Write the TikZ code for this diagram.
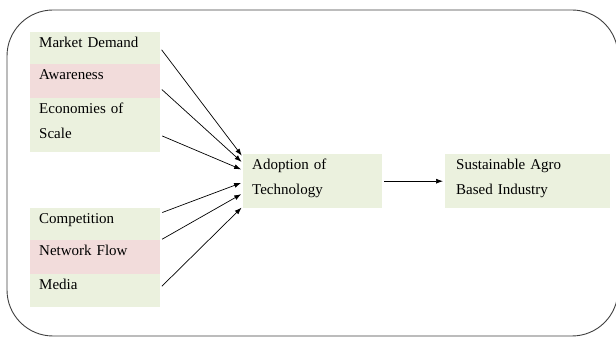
\documentclass[tikz,border=0pt]{standalone}
\usepackage{fontspec}
\setmainfont{Liberation Serif}
\usepackage{xcolor}
\usetikzlibrary{arrows.meta}

\definecolor{boxgreen}{HTML}{EBF1DE}
\definecolor{boxpink}{HTML}{F2DCDB}

\begin{document}
\begin{tikzpicture}[x=1pt,y=-1pt,
  factor/.style={anchor=north west,inner xsep=9pt,inner ysep=0pt,text width=112pt,align=left,
    text height=15pt,font=\fontsize{15}{25}\selectfont},
  link/.style={-{Latex[length=7pt,width=5pt]},line width=0.7pt,shorten <=2pt,shorten >=2pt}]
\useasboundingbox (0,0) rectangle (616,339);
\draw[rounded corners=46pt,draw=black!75,line width=0.9pt] (7,10) rectangle (618,336);
\node[factor,fill=boxgreen,text depth=17pt] (md) at (30,32) {Market Demand};
\node[factor,fill=boxpink,text depth=19pt] (aw) at (30,64) {Awareness};
\node[factor,fill=boxgreen,text depth=39pt] (es) at (30,98) {Economies of\\Scale};
\node[factor,fill=boxgreen,text depth=17pt] (co) at (30,208) {Competition};
\node[factor,fill=boxpink,text depth=19pt] (nf) at (30,240) {Network Flow};
\node[factor,fill=boxgreen,text depth=18pt] (me) at (30,274) {Media};
\node[factor,fill=boxgreen,text width=121pt,text depth=39pt] (adopt) at (243,154) {Adoption of\\Technology};
\node[factor,fill=boxgreen,inner xsep=11pt,text width=143pt,text depth=39pt] (sus) at (445,154) {Sustainable Agro\\Based Industry};
\draw[link] (md.east) -- ([yshift=24pt]adopt.west);
\draw[link] ([yshift=-7pt]aw.east) -- ([yshift=18pt]adopt.west);
\draw[link] ([yshift=-10pt]es.east) -- ([yshift=11pt]adopt.west);
\draw[link] ([yshift=11pt]co.east) -- ([yshift=-1pt]adopt.west);
\draw[link] ([yshift=17pt]nf.east) -- ([yshift=-12pt]adopt.west);
\draw[link] ([yshift=3pt]me.east) -- ([yshift=-25pt]adopt.west);
\draw[link] (adopt.east) -- (sus.west);
\end{tikzpicture}
\end{document}
